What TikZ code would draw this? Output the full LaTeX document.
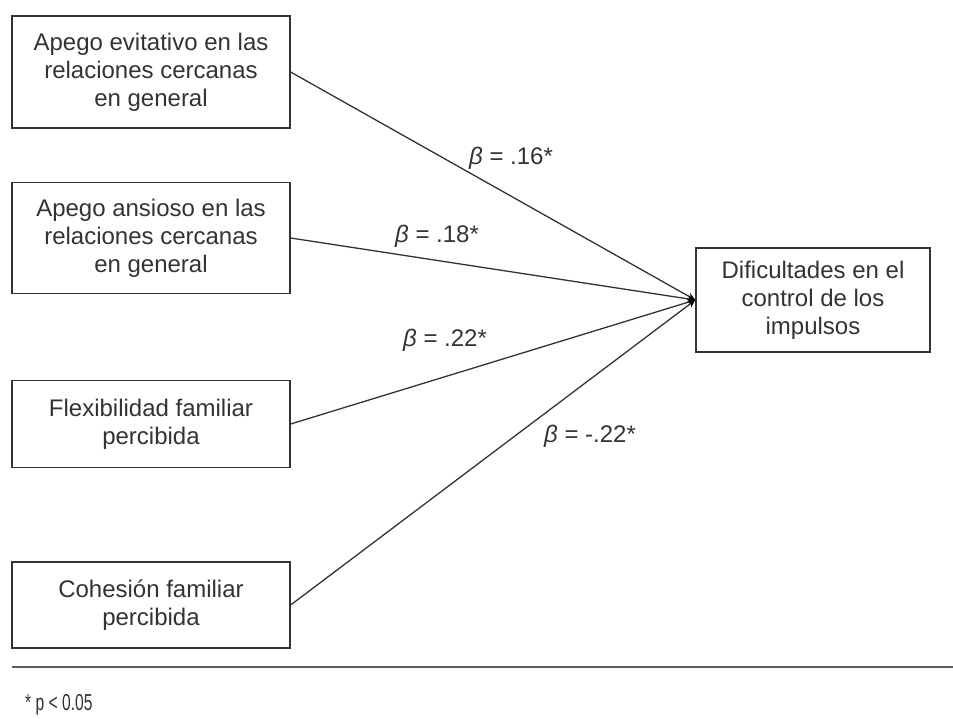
\documentclass[tikz,border=0pt]{standalone}
\usepackage{fontspec}
\setmainfont{Liberation Sans}
\newfontfamily\notefont[FakeStretch=0.68]{Liberation Sans}
\usetikzlibrary{arrows.meta}
\definecolor{ink}{HTML}{333333}
\begin{document}
\begin{tikzpicture}[x=1pt,y=-1pt,
  box/.style={draw=ink, line width=1.3pt, text=ink, align=center,
    minimum width=278pt, inner sep=0pt,
    font=\fontsize{24}{28}\selectfont},
  path/.style={draw=ink, line width=1.3pt, -{Stealth[length=8pt,width=7pt,black]}},
  coef/.style={text=ink, inner sep=0pt, font=\fontsize{24}{28}\selectfont}]
  \useasboundingbox (0,0) rectangle (953,718);
  % predictor boxes
  \node[box, minimum height=112pt] (evit) at (151,72)  {Apego evitativo en las\\relaciones cercanas\\en general};
  \node[box, minimum height=111pt] (ans)  at (151,238) {Apego ansioso en las\\relaciones cercanas\\en general};
  \node[box, minimum height=87pt]  (flex) at (151,424) {Flexibilidad familiar\\percibida};
  \node[box, minimum height=86pt]  (coh)  at (151,605) {Cohesión familiar\\percibida};
  % outcome box
  \node[box, minimum width=234pt, minimum height=104pt] (dif) at (813,300) {Dificultades en el\\control de los\\impulsos};
  % regression paths
  \draw[path] (evit.east) -- (dif.west);
  \draw[path] (ans.east)  -- (dif.west);
  \draw[path] (flex.east) -- (dif.west);
  \draw[path] (coh.east)  -- (dif.west);
  % coefficients
  \node[coef] (b1) at (511,158) {\textit{β} = .16*};
  \node[coef] (b2) at (437,236) {\textit{β} = .18*};
  \node[coef] (b3) at (445,340) {\textit{β} = .22*};
  \node[coef] (b4) at (590,436) {\textit{β} = -.22*};
  % footer rule and note
  \coordinate (r1) at (12,667);
  \coordinate (r2) at (953,667);
  \draw[draw=ink!80, line width=1.5pt] (r1) -- (r2);
  \node[text=ink, anchor=west, inner sep=0pt, font=\notefont\fontsize{23}{26}\selectfont] (note) at (25,705) {* p < 0.05};
\end{tikzpicture}
\end{document}
